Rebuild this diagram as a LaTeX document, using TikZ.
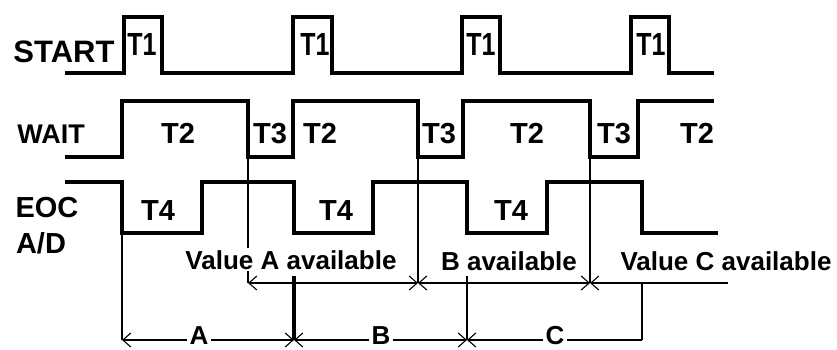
\documentclass[tikz,border=0pt]{standalone}
\usepackage{fontspec}
\usepackage{graphicx}
\setmainfont{Liberation Sans}
\usetikzlibrary{arrows.meta}
\tikzset{
  sig/.style={line width=3.4pt, line join=miter, line cap=butt},
  thin/.style={line width=1.3pt},
  dimline/.style={line width=2pt},
  barb/.tip={Straight Barb[length=8pt,width=14pt,line width=1.1pt]},
  lbl/.style={anchor=base, inner sep=1pt, font=\bfseries\fontsize{#1}{#1}\selectfont},
  lbl/.default=29,
  wlbl/.style={lbl=#1, fill=white, inner xsep=3pt, inner ysep=2pt},
  wlbl/.default=26,
}
\newcommand{\tone}{\scalebox{0.78}[1]{T1}}
\begin{document}
\begin{tikzpicture}[x=1pt,y=-1pt]
\useasboundingbox[fill=white] (0,0) rectangle (837,349);
% signals
\draw[sig] (65,73) -- (124,73) -- (124,17) -- (162,17) -- (162,73) -- (293,73) -- (293,17) -- (332,17) -- (332,73) -- (462,73) -- (462,17) -- (500,17) -- (500,73) -- (631,73) -- (631,17) -- (669,17) -- (669,73) -- (714,73);
\draw[sig] (65,157) -- (122,157) -- (122,101) -- (248,101) -- (248,157) -- (293,157) -- (293,101) -- (418,101) -- (418,157) -- (463,157) -- (463,101) -- (590,101) -- (590,157) -- (638,157) -- (638,101) -- (714,101);
\draw[sig] (65,182) -- (122,182) -- (122,233) -- (202,233) -- (202,182) -- (294,182) -- (294,233) -- (373,233) -- (373,182) -- (467,182) -- (467,233) -- (547,233) -- (547,182) -- (642,182) -- (642,233) -- (718,233);
% coordinates
\coordinate (wa) at (248,157); \coordinate (wb) at (418,157); \coordinate (wc) at (590,157);
\coordinate (ma) at (248,283); \coordinate (mb) at (418,283); \coordinate (mc) at (590,283); \coordinate (me) at (728,283);
\coordinate (e0) at (122,233); \coordinate (b0) at (122,340);
\coordinate (ta) at (294,276); \coordinate (ba) at (294,340);
\coordinate (tb) at (467,276); \coordinate (bb) at (467,340);
\coordinate (tc) at (642,283); \coordinate (bc) at (642,340);
% thin verticals
\draw[thin] (wa) -- (ma);
\draw[thin] (wb) -- (mb);
\draw[thin] (wc) -- (mc);
\draw[line width=2pt] (e0) -- (b0);
\draw[line width=3.2pt] (ta) -- (ba);
\draw[line width=2pt] (tb) -- (bb);
\draw[line width=2pt] (tc) -- (bc);
% dimension lines
\draw[dimline,barb-barb] (ma) -- (mb);
\draw[dimline,barb-barb] (mb) -- (mc);
\draw[dimline,barb-] (mc) -- (me);
\draw[line width=1.6pt,barb-barb] (b0) -- (ba);
\draw[line width=1.6pt,barb-barb] (ba) -- (bb);
\draw[line width=1.6pt,barb-] (bb) -- (bc);
% labels
\node[lbl=31] (start) at (64,62) {START};
\node[lbl=32] (t1a) at (142,55) {\tone};
\node[lbl=32] (t1b) at (315,55) {\tone};
\node[lbl=32] (t1c) at (481,55) {\tone};
\node[lbl=32] (t1d) at (651,55) {\tone};
\node[lbl=27] (wait) at (51,143) {WAIT};
\node[lbl] (t2a) at (178,143) {T2};
\node[lbl] (t2b) at (320,143) {T2};
\node[lbl] (t2c) at (527,143) {T2};
\node[lbl] (t2d) at (697,143) {T2};
\node[lbl] (t3a) at (270,143) {T3};
\node[lbl] (t3b) at (439,143) {T3};
\node[lbl] (t3c) at (614,143) {T3};
\node[lbl=29] (eoc) at (47,217) {EOC};
\node[lbl=29] (ad) at (41,253) {A/D};
\node[lbl] (t4a) at (158,220) {T4};
\node[lbl] (t4b) at (336,220) {T4};
\node[lbl] (t4c) at (511,220) {T4};
\node[wlbl] (va) at (291,269) {Value A available};
\node[wlbl] (vb) at (509,270) {B available};
\node[wlbl] (vc) at (726,270) {Value C available};
\node[wlbl=26, inner ysep=0pt] (la) at (199,344) {A};
\node[wlbl=26, inner ysep=0pt] (lb) at (381,344) {B};
\node[wlbl=26, inner ysep=0pt] (lc) at (555,344) {C};
\end{tikzpicture}
\end{document}
